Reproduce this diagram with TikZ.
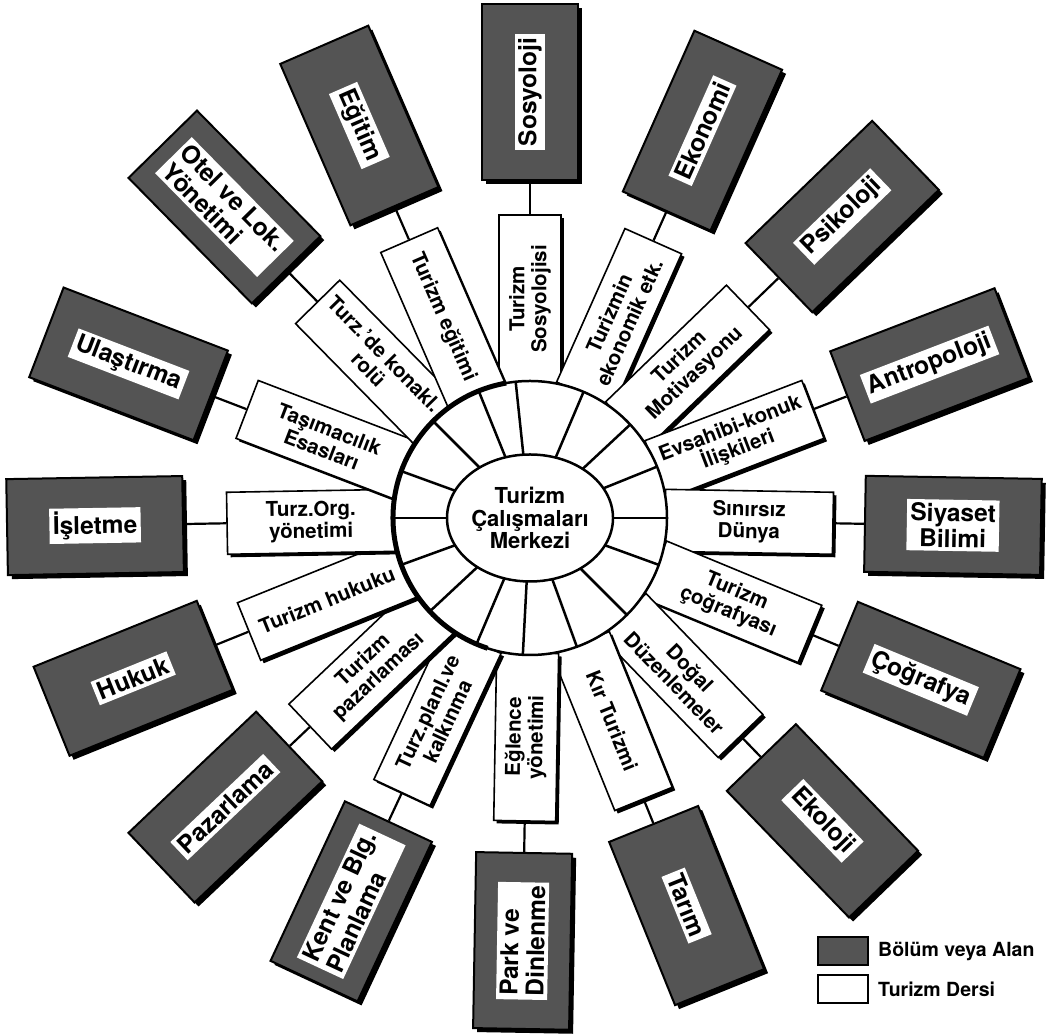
\documentclass[tikz,border=0pt]{standalone}
\usepackage{fontspec}
\setmainfont{TeX Gyre Heros}
\usetikzlibrary{calc,shapes.geometric}
\definecolor{halftone}{gray}{0.33}
\tikzset{
  wbox/.style={draw=black, line width=1.6pt, fill=white, minimum width=168pt, minimum height=62pt, inner sep=2pt, align=center, font=\fontsize{20.5}{22}\selectfont\bfseries},
  wshadow/.style={fill=black, minimum width=168pt, minimum height=62pt, inner sep=0pt},
  dbox/.style={draw=black, line width=2pt, fill=halftone, minimum width=176pt, minimum height=96pt, inner sep=0pt},
  dshadow/.style={fill=black, minimum width=176pt, minimum height=96pt, inner sep=0pt},
  dlabel/.style={fill=white, inner sep=3.5pt, font=\fontsize{24.5}{26}\selectfont\bfseries},
  conn/.style={line width=2.2pt},
  ringline/.style={line width=2.5pt},
  centre/.style={draw=black, line width=2.5pt, fill=white, ellipse, minimum width=140pt, minimum height=127pt, inner sep=0pt, align=center, font=\fontsize{22}{22.5}\selectfont\bfseries},
  legtext/.style={anchor=west, inner sep=0pt, font=\fontsize{19.5}{21}\selectfont\bfseries},
}
\begin{document}
\begin{tikzpicture}[x=1pt,y=1pt]
\useasboundingbox (0,0) rectangle (1046,1035);
\coordinate (C) at (530,517);
% white course boxes
\foreach \a/\r/\dd/\wt/\dt/\al [count=\i] in {
  90/90/426/Turizm\\Sosyolojisi/Sosyoloji/center,
  66/66/424/Turizmin\\ekonomik etk./Ekonomi/center,
  44/44/434/Turizm\\Motivasyonu/Psikoloji/center,
  21/21/428/Evsahibi-konuk\\İlişkileri/Antropoloji/center,
  -1/-1/423/Sınırsız\\Dünya/Siyaset\\Bilimi/center,
  -22.5/-22.5/423/Turizm\\çoğrafyası/Çoğrafya/center,
  -46/-46/421/Doğal\\Düzenlemeler/Ekoloji/center,
  -68/-68/418/Kır Turizmi/Tarım/center,
  -91/89/423/Eğlence\\yönetimi/Park ve\\Dinlenme/left,
  -115/65/423/Turz.planl.ve\\kalkınma/Kent ve Blg.\\Planlama/left,
  -136.5/43.5/420/Turizm\\pazarlaması/Pazarlama/center,
  -158/22/428/Turizm hukuku/Hukuk/center,
  181/1/435/Turz.Org.\\yönetimi/İşletme/center,
  159/-21/430/Taşımacılık\\Esasları/Ulaştırma/center,
  134.5/-45.5/436/Turz.'de konakl.\\rolü/Otel ve Lok.\\Yönetimi/left,
  113.5/-66.5/428/Turizm eğitimi/Eğitim/center}
{
  \node[wshadow, rotate=\r] (ws\i) at ($(C)+(\a:219)+(3,-3)$) {};
  \node[wbox, rotate=\r] (w\i) at ($(C)+(\a:219)$) {\wt};
}
% central ring
\fill[white] (C) circle (137);
\foreach \k in {0,22,43,67,96,112,135,160,180,200,223,247,267,290,315,340}
  \draw[ringline] ($(C)+(\k:60)$) -- ($(C)+(\k:137)$);
\draw[line width=2.5pt] (C) circle (137);
\draw[line width=5pt] ($(C)+(100:137)$) arc (100:252:137);
\node[centre] (centre) at (C) {Turizm\\Çalışmaları\\Merkezi};
% dark field boxes
\foreach \a/\r/\dd/\wt/\dt/\al [count=\i] in {
  90/90/426/Turizm\\Sosyolojisi/Sosyoloji/center,
  66/66/424/Turizmin\\ekonomik etk./Ekonomi/center,
  44/44/434/Turizm\\Motivasyonu/Psikoloji/center,
  21/21/428/Evsahibi-konuk\\İlişkileri/Antropoloji/center,
  -1/-1/423/Sınırsız\\Dünya/Siyaset\\Bilimi/center,
  -22.5/-22.5/423/Turizm\\çoğrafyası/Çoğrafya/center,
  -46/-46/421/Doğal\\Düzenlemeler/Ekoloji/center,
  -68/-68/418/Kır Turizmi/Tarım/center,
  -91/89/423/Eğlence\\yönetimi/Park ve\\Dinlenme/left,
  -115/65/423/Turz.planl.ve\\kalkınma/Kent ve Blg.\\Planlama/left,
  -136.5/43.5/420/Turizm\\pazarlaması/Pazarlama/center,
  -158/22/428/Turizm hukuku/Hukuk/center,
  181/1/435/Turz.Org.\\yönetimi/İşletme/center,
  159/-21/430/Taşımacılık\\Esasları/Ulaştırma/center,
  134.5/-45.5/436/Turz.'de konakl.\\rolü/Otel ve Lok.\\Yönetimi/left,
  113.5/-66.5/428/Turizm eğitimi/Eğitim/center}
{
  \node[dshadow, rotate=\r] (ds\i) at ($(C)+(\a:\dd)+(4,-4)$) {};
  \node[dbox, rotate=\r] (d\i) at ($(C)+(\a:\dd)$) {};
  \node[dlabel, rotate=\r, align=\al] (l\i) at (d\i.center) {\dt};
  \draw[conn] (w\i) -- (d\i);
}
% legend
\node[dbox, minimum width=50pt, minimum height=28pt] (leg1) at (843,84) {};
\node[wbox, minimum width=50pt, minimum height=28pt] (leg2) at (843,46) {};
\node[legtext] (legt1) at (878,84) {Bölüm veya Alan};
\node[legtext] (legt2) at (878,46) {Turizm Dersi};
\end{tikzpicture}
\end{document}
